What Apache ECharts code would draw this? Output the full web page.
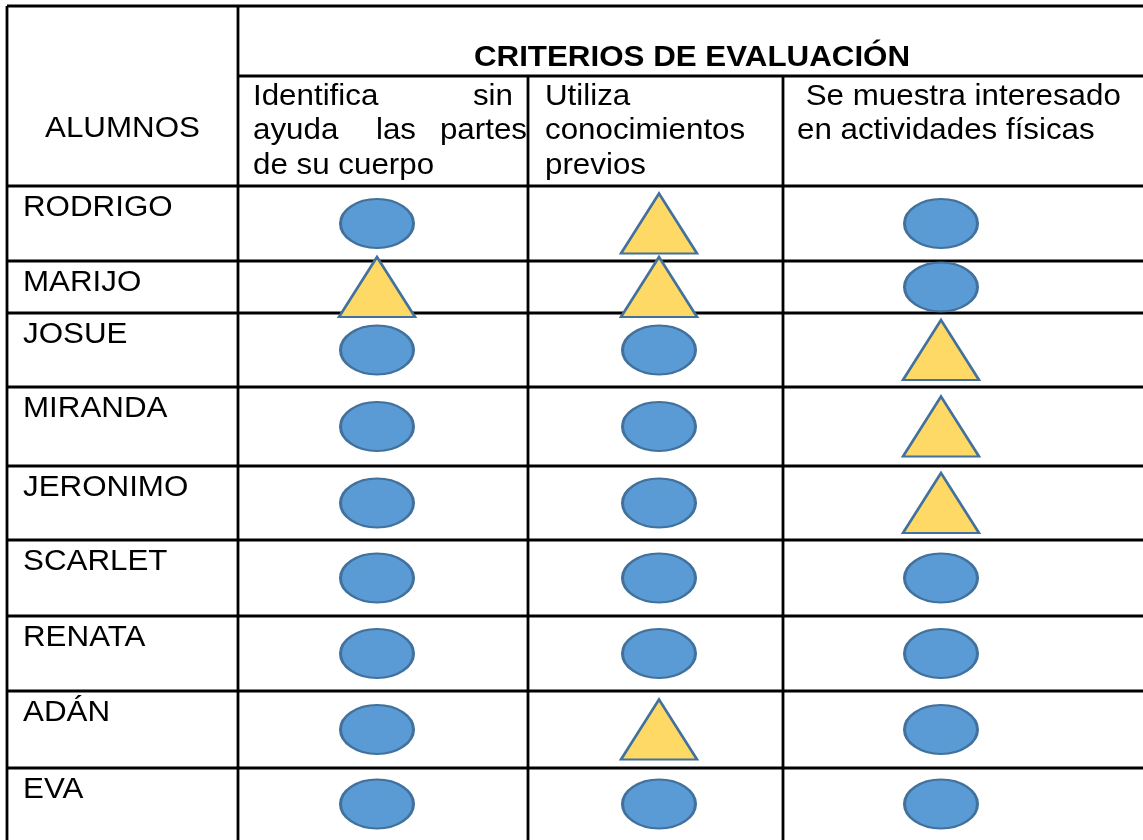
<!DOCTYPE html>
<html>
<head>
<meta charset="utf-8">
<script src="https://cdn.jsdelivr.net/npm/echarts@6/dist/echarts.min.js"></script>
<style>
html,body{margin:0;padding:0;background:#ffffff;}
#chart{width:1143px;height:840px;}
</style>
</head>
<body>
<div id="chart"></div>
<script>
// ---------- DATA ----------
const students = ['RODRIGO','MARIJO','JOSUE','MIRANDA','JERONIMO','SCARLET','RENATA','ADÁN','EVA'];
const firstColTitle = 'ALUMNOS';
const headerTitle = 'CRITERIOS DE EVALUACIÓN';
const criteria = [
  'Identifica sin ayuda las partes de su cuerpo',
  'Utiliza conocimientos previos',
  'Se muestra interesado en actividades físicas'
];
// marks per criterion, one per student ('circle' or 'triangle')
const crit1Marks = ['circle','triangle','circle','circle','circle','circle','circle','circle','circle'];
const crit2Marks = ['triangle','triangle','circle','circle','circle','circle','circle','triangle','circle'];
const crit3Marks = ['circle','circle','triangle','triangle','triangle','circle','circle','circle','circle'];
// header lines of each criterion as printed (wrapped)
const crit1Lines = [['Identifica','sin'],['ayuda','las','partes'],['de su cuerpo']];
const crit2Lines = [['Utiliza'],['conocimientos'],['previos']];
const crit3Lines = [[' Se muestra interesado'],['en actividades físicas']];

// ---------- LAYOUT (axis units == pixels) ----------
const W = 1143, H = 840;
const colEdges = [7, 238, 528, 783, 1143];
const headerTop = 6, headerSplit = 76, headerBottom = 186;
const rowEdges = [186, 261, 313, 387, 466, 540, 616, 691, 768, 840];
const markAnchorX = [377, 659, 941];
const lineBaselines = [106, 140, 175];
const FONT = '"Liberation Sans", Arial, sans-serif';
const FS = 29, SX = 1.08;

// grid segments
const segs = [];
segs.push([colEdges[0], headerTop, W, headerTop]);
segs.push([colEdges[1], headerSplit, W, headerSplit]);
segs.push([colEdges[0], headerBottom, W, headerBottom]);
for (let i = 1; i < rowEdges.length - 1; i++) segs.push([colEdges[0], rowEdges[i], W, rowEdges[i]]);
segs.push([colEdges[0], headerTop, colEdges[0], H]);
segs.push([colEdges[1], headerTop, colEdges[1], H]);
segs.push([colEdges[2], headerSplit, colEdges[2], H]);
segs.push([colEdges[3], headerSplit, colEdges[3], H]);

// text items
const texts = [];
texts.push({t: firstColTitle, x: (colEdges[0] + colEdges[1]) / 2, y: 138, a: 'center'});
texts.push({t: headerTitle, x: 692, y: 67, a: 'center', b: true});
// criterion 1 (justified)
texts.push({t: crit1Lines[0][0], x: 253, y: lineBaselines[0], a: 'left'});
texts.push({t: crit1Lines[0][1], x: 513, y: lineBaselines[0], a: 'right'});
texts.push({t: crit1Lines[1][0], x: 253, y: lineBaselines[1], a: 'left'});
texts.push({t: crit1Lines[1][1], x: 396, y: lineBaselines[1], a: 'center'});
texts.push({t: crit1Lines[1][2], x: 527, y: lineBaselines[1], a: 'right'});
texts.push({t: crit1Lines[2][0], x: 253, y: lineBaselines[2], a: 'left'});
crit2Lines.forEach((l, i) => texts.push({t: l[0], x: 545, y: lineBaselines[i], a: 'left'}));
crit3Lines.forEach((l, i) => texts.push({t: l[0], x: 797, y: lineBaselines[i], a: 'left'}));
students.forEach((s, i) => texts.push({t: s, x: 23, y: rowEdges[i] + 31, a: 'left'}));

// marks
const allMarks = [crit1Marks, crit2Marks, crit3Marks];
const circlePts = [], trianglePts = [];
allMarks.forEach((arr, c) => {
  arr.forEach((m, r) => {
    const p = [markAnchorX[c], (rowEdges[r] + rowEdges[r + 1]) / 2];
    (m === 'circle' ? circlePts : trianglePts).push(p);
  });
});

const ellipsePath = 'path://M50,0 C77.6,0 100,22.4 100,50 C100,77.6 77.6,100 50,100 C22.4,100 0,77.6 0,50 C0,22.4 22.4,0 50,0 Z';

const chart = echarts.init(document.getElementById('chart'), null, {renderer: 'canvas'});
chart.setOption({
  animation: false,
  backgroundColor: '#ffffff',
  grid: {left: 0, right: 0, top: 0, bottom: 0},
  xAxis: {type: 'value', min: 0, max: W, show: false},
  yAxis: {type: 'value', min: 0, max: H, inverse: true, show: false},
  series: [
    {
      type: 'custom', silent: true, z: 1, clip: false,
      data: segs,
      renderItem: function (params, api) {
        const p1 = api.coord([api.value(0), api.value(1)]);
        const p2 = api.coord([api.value(2), api.value(3)]);
        return {type: 'line', shape: {x1: p1[0], y1: p1[1], x2: p2[0], y2: p2[1]},
          style: {stroke: '#000000', lineWidth: 2.8}};
      }
    },
    {
      type: 'custom', silent: true, z: 2, clip: false,
      data: texts.map(d => [d.x, d.y]),
      renderItem: function (params, api) {
        const d = texts[params.dataIndex];
        const p = api.coord([api.value(0), api.value(1)]);
        return {type: 'text', x: p[0], y: p[1] - 9, scaleX: SX, scaleY: 1,
          style: {text: d.t, fill: '#000000', align: d.a, verticalAlign: 'middle',
            font: (d.b ? 'bold ' : '') + FS + 'px ' + FONT}};
      }
    },
    {
      type: 'scatter', silent: true, z: 3,
      data: circlePts,
      symbol: ellipsePath, symbolSize: [73, 49],
      itemStyle: {color: '#5B9BD5', borderColor: '#41719C', borderWidth: 2.5, opacity: 1}
    },
    {
      type: 'scatter', silent: true, z: 3,
      data: trianglePts,
      symbol: 'triangle', symbolSize: [76, 60],
      itemStyle: {color: '#FFD966', borderColor: '#41719C', borderWidth: 2.5, opacity: 1}
    }
  ]
});
</script>
</body>
</html>
